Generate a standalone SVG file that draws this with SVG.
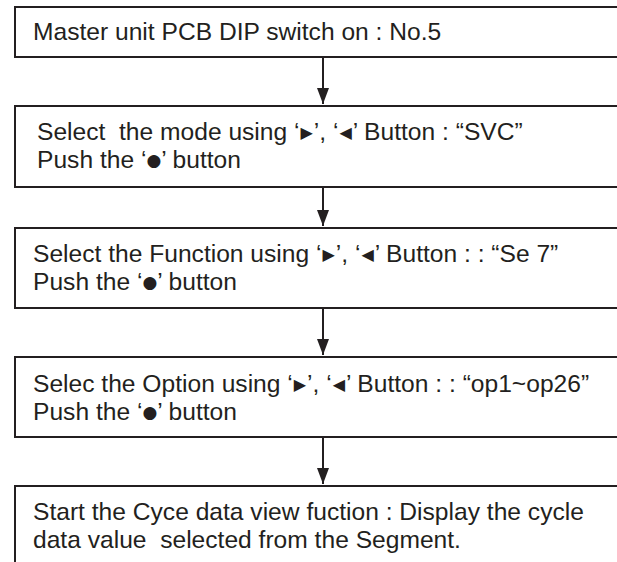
<svg xmlns="http://www.w3.org/2000/svg" width="617" height="562" viewBox="0 0 617 562">
<defs>
<style>
.box{fill:#fff;stroke:#231f20;stroke-width:2}
.t{font-family:"Liberation Sans",Arial,sans-serif;font-size:24.6px;fill:#231f20;white-space:pre}
.c{stroke:#231f20;stroke-width:2;fill:none}
.sym{font-family:"DejaVu Sans",sans-serif;font-size:16px;letter-spacing:1px}
.dot{font-family:"DejaVu Sans",sans-serif;font-size:17px}
</style>
<marker id="ah" viewBox="0 0 16 12" refX="16" refY="6" markerWidth="16" markerHeight="12" markerUnits="userSpaceOnUse" orient="auto">
<path d="M0,0 L16,6 L0,12 Z" fill="#231f20"/>
</marker>
</defs>
<rect width="617" height="562" fill="#fff"/>
<g id="n1"><rect class="box" x="15" y="7" width="620" height="50"/><text class="t" x="33" y="40">Master unit PCB DIP switch on : No.5</text></g>
<g id="n2"><rect class="box" x="15" y="106" width="620" height="81"/><text class="t" x="37" y="140">Select  the mode using ‘<tspan class="sym" dx="1" dy="-2">▶</tspan><tspan dy="2">’, ‘</tspan><tspan class="sym" dx="1" dy="-2">◀</tspan><tspan dy="2">’ Button : “SVC”</tspan></text><text class="t" x="37" y="168">Push the ‘<tspan class="dot" dx="0" dy="-2">●</tspan><tspan dy="2">’ button</tspan></text></g>
<g id="n3"><rect class="box" x="15" y="228" width="620" height="80"/><text class="t" x="33" y="262">Select the Function using ‘<tspan class="sym" dx="1" dy="-2">▶</tspan><tspan dy="2">’, ‘</tspan><tspan class="sym" dx="1" dy="-2">◀</tspan><tspan dy="2">’ Button : : “Se 7”</tspan></text><text class="t" x="33" y="290">Push the ‘<tspan class="dot" dx="0" dy="-2">●</tspan><tspan dy="2">’ button</tspan></text></g>
<g id="n4"><rect class="box" x="15" y="357" width="620" height="80"/><text class="t" x="33" y="392">Selec the Option using ‘<tspan class="sym" dx="1" dy="-2">▶</tspan><tspan dy="2">’, ‘</tspan><tspan class="sym" dx="1" dy="-2">◀</tspan><tspan dy="2">’ Button : : “op1~op26”</tspan></text><text class="t" x="33" y="420">Push the ‘<tspan class="dot" dx="0" dy="-2">●</tspan><tspan dy="2">’ button</tspan></text></g>
<g id="n5"><rect class="box" x="15" y="486" width="620" height="100"/><text class="t" x="33" y="520">Start the Cyce data view fuction : Display the cycle</text><text class="t" x="33" y="548">data value  selected from the Segment.</text></g>
<g id="connectors">
<line class="c" x1="323" y1="57" x2="323" y2="104" marker-end="url(#ah)"/>
<line class="c" x1="323" y1="187" x2="323" y2="226" marker-end="url(#ah)"/>
<line class="c" x1="323" y1="308" x2="323" y2="355" marker-end="url(#ah)"/>
<line class="c" x1="323" y1="437" x2="323" y2="484" marker-end="url(#ah)"/>
</g>
</svg>
